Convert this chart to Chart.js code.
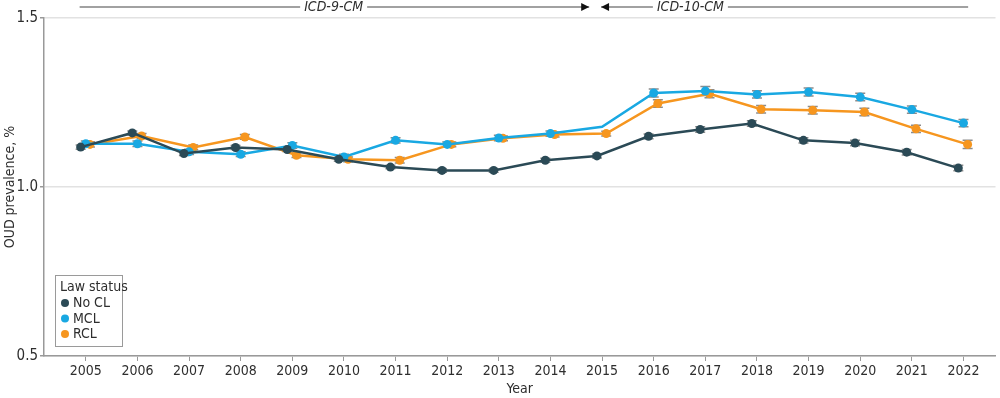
<!DOCTYPE html>
<html>
<head>
<meta charset="utf-8">
<script src="https://cdn.jsdelivr.net/npm/chart.js@4.4.1/dist/chart.umd.min.js"></script>
<style>
  html, body { margin: 0; padding: 0; background: #fff; }
  #wrap { width: 1000px; height: 398px; }
</style>
</head>
<body>
<div id="wrap"><canvas id="oudChart" width="1000" height="398"></canvas></div>
<script>
// DATA
const years = [2005, 2006, 2007, 2008, 2009, 2010, 2011, 2012, 2013, 2014, 2015, 2016, 2017, 2018, 2019, 2020, 2021, 2022];
const seriesNames = ["No CL", "MCL", "RCL"];
const noCL = [1.118, 1.160, 1.099, 1.117, 1.111, 1.082, 1.059, 1.049, 1.049, 1.079, 1.092, 1.150, 1.170, 1.188, 1.138, 1.130, 1.103, 1.056];
const mcl  = [1.128, 1.128, 1.104, 1.097, 1.123, 1.089, 1.138, 1.126, 1.145, 1.158, 1.178, 1.278, 1.284, 1.274, 1.281, 1.266, 1.229, 1.189];
const rcl  = [1.126, 1.151, 1.117, 1.148, 1.094, 1.082, 1.079, 1.126, 1.144, 1.155, 1.158, 1.247, 1.276, 1.230, 1.227, 1.222, 1.172, 1.126];
// half width of the 95% CI
const noCLErr = [0.006, 0.006, 0.006, 0.006, 0.006, 0.006, 0.005, 0.005, 0.005, 0.006, 0.006, 0.007, 0.008, 0.008, 0.008, 0.008, 0.008, 0.008];
const mclErr  = [0.008, 0.008, 0.008, 0.007, 0.008, 0.008, 0.008, 0.007, 0.008, 0.008, 0, 0.012, 0.013, 0.011, 0.012, 0.011, 0.011, 0.011];
const rclErr  = [0.008, 0.007, 0.007, 0.007, 0.007, 0.007, 0.008, 0.007, 0.007, 0.007, 0.007, 0.011, 0.012, 0.011, 0.011, 0.011, 0.011, 0.012];
const yTicks = [0.5, 1.0, 1.5];
// coding periods shown above the plot
const periodLabels = ["ICD-9-CM", "ICD-10-CM"];
const periodStart = [2004.88, 2014.98];
const periodEnd = [2014.75, 2022.09];
const periodLabelAt = [2009.8, 2016.71];

const FONT = "'Liberation Sans Narrow', 'DejaVu Sans Condensed', 'Noto Sans', sans-serif";
const TEXT = "#2e2e2e";
const colors = ["#2b4a56", "#19a8e2", "#f6961f"];
const dodge = [-0.1, 0, 0.08];

function buildDataset(i, values, errs) {
  return {
    label: seriesNames[i],
    data: years.map((yr, k) => ({ x: yr + dodge[i], y: values[k], err: errs[k] })),
    borderColor: colors[i],
    backgroundColor: colors[i],
    borderWidth: 2.5,
    pointRadius: values.map((v, k) => (errs[k] === 0 ? 0 : 4.5)),
    pointHoverRadius: 4.5,
    pointBorderWidth: 0,
    tension: 0
  };
}

// error bars, drawn under lines/points
const errorBars = {
  id: "errorBars",
  beforeDatasetsDraw(chart) {
    const ctx = chart.ctx;
    const yScale = chart.scales.y;
    ctx.save();
    ctx.strokeStyle = "#8c8c8c";
    ctx.lineWidth = 1.5;
    chart.data.datasets.forEach((ds, i) => {
      const meta = chart.getDatasetMeta(i);
      meta.data.forEach((pt, k) => {
        const d = ds.data[k];
        if (!d.err) return;
        const top = yScale.getPixelForValue(d.y + d.err);
        const bot = yScale.getPixelForValue(d.y - d.err);
        ctx.beginPath();
        ctx.moveTo(pt.x, top); ctx.lineTo(pt.x, bot);
        ctx.moveTo(pt.x - 5, top); ctx.lineTo(pt.x + 5, top);
        ctx.moveTo(pt.x - 5, bot); ctx.lineTo(pt.x + 5, bot);
        ctx.stroke();
      });
    });
    ctx.restore();
  }
};

// ICD-9-CM / ICD-10-CM arrows
const periodArrows = {
  id: "periodArrows",
  afterDraw(chart) {
    const ctx = chart.ctx;
    const xs = chart.scales.x;
    const y = chart.chartArea.top - 11;
    ctx.save();
    ctx.font = "italic 14px " + FONT;
    ctx.textAlign = "center";
    ctx.textBaseline = "middle";
    ctx.strokeStyle = "#444";
    ctx.lineWidth = 1.2;
    periodLabels.forEach((lab, i) => {
      const x0 = xs.getPixelForValue(periodStart[i]);
      const x1 = xs.getPixelForValue(periodEnd[i]);
      const xt = xs.getPixelForValue(periodLabelAt[i]);
      const half = ctx.measureText(lab).width / 2 + 4;
      ctx.beginPath();
      ctx.moveTo(x0, y); ctx.lineTo(xt - half, y);
      ctx.moveTo(xt + half, y); ctx.lineTo(x1, y);
      ctx.stroke();
      ctx.fillStyle = TEXT;
      ctx.fillText(lab, xt, y + 0.5);
      ctx.fillStyle = "#111";
      ctx.beginPath();
      if (i === 0) {
        ctx.moveTo(x1, y); ctx.lineTo(x1 - 8, y - 4); ctx.lineTo(x1 - 8, y + 4);
      } else {
        ctx.moveTo(x0, y); ctx.lineTo(x0 + 8, y - 4); ctx.lineTo(x0 + 8, y + 4);
      }
      ctx.closePath();
      ctx.fill();
    });
    ctx.restore();
  }
};

// legend box inside the plot, lower left
const lawLegend = {
  id: "lawLegend",
  afterDraw(chart) {
    const ctx = chart.ctx;
    const area = chart.chartArea;
    const bx = area.left + 11, by = area.bottom - 81;
    ctx.save();
    ctx.strokeStyle = "#9a9a9a";
    ctx.lineWidth = 1;
    ctx.fillStyle = "#fff";
    ctx.fillRect(bx, by, 67, 71);
    ctx.strokeRect(bx + 0.5, by + 0.5, 67, 71);
    ctx.font = "14px " + FONT;
    ctx.textBaseline = "middle";
    ctx.fillStyle = TEXT;
    ctx.fillText("Law status", bx + 5, by + 12);
    chart.data.datasets.forEach((ds, i) => {
      const yy = by + 28 + i * 15.5;
      ctx.fillStyle = ds.backgroundColor;
      ctx.beginPath();
      ctx.arc(bx + 10, yy, 4, 0, Math.PI * 2);
      ctx.fill();
      ctx.fillStyle = TEXT;
      ctx.fillText(ds.label, bx + 18, yy + 0.5);
    });
    ctx.restore();
  }
};

new Chart(document.getElementById("oudChart"), {
  type: "line",
  data: {
    datasets: [
      buildDataset(0, noCL, noCLErr),
      buildDataset(1, mcl, mclErr),
      buildDataset(2, rcl, rclErr)
    ]
  },
  options: {
    responsive: false,
    devicePixelRatio: 1,
    animation: false,
    layout: { padding: { top: 18, right: 3, left: 0, bottom: 0 } },
    plugins: {
      legend: { display: false },
      tooltip: { enabled: false }
    },
    scales: {
      x: {
        type: "linear",
        min: 2004.19,
        max: 2022.62,
        afterBuildTicks: (s) => { s.ticks = years.map((v) => ({ value: v })); },
        afterFit: (s) => { s.height = 42; },
        grid: { drawOnChartArea: false, drawTicks: true, tickLength: 5, tickColor: "#999", lineWidth: 1 },
        border: { display: true, color: "#999", width: 1.5 },
        ticks: {
          autoSkip: false,
          maxRotation: 0,
          padding: 2,
          color: TEXT,
          font: { family: FONT, size: 14 },
          callback: (v) => String(v)
        },
        title: {
          display: true,
          text: "Year",
          color: TEXT,
          font: { family: FONT, size: 14 },
          padding: { top: 0, bottom: 0 }
        }
      },
      y: {
        min: 0.5,
        max: 1.5,
        afterBuildTicks: (s) => { s.ticks = yTicks.map((v) => ({ value: v })); },
        afterFit: (s) => { s.width = 44; },
        grid: { color: "#e2e2e2", lineWidth: 1.5, drawTicks: true, tickLength: 4, tickColor: "#999" },
        border: { display: true, color: "#999", width: 1.5 },
        ticks: {
          padding: 2,
          color: TEXT,
          font: { family: FONT, size: 15 },
          callback: (v) => Number(v).toFixed(1)
        },
        title: {
          display: true,
          text: "OUD prevalence, %",
          color: TEXT,
          font: { family: FONT, size: 14 },
          padding: { top: 2, bottom: 0 }
        }
      }
    }
  },
  plugins: [errorBars, periodArrows, lawLegend]
});
</script>
</body>
</html>
